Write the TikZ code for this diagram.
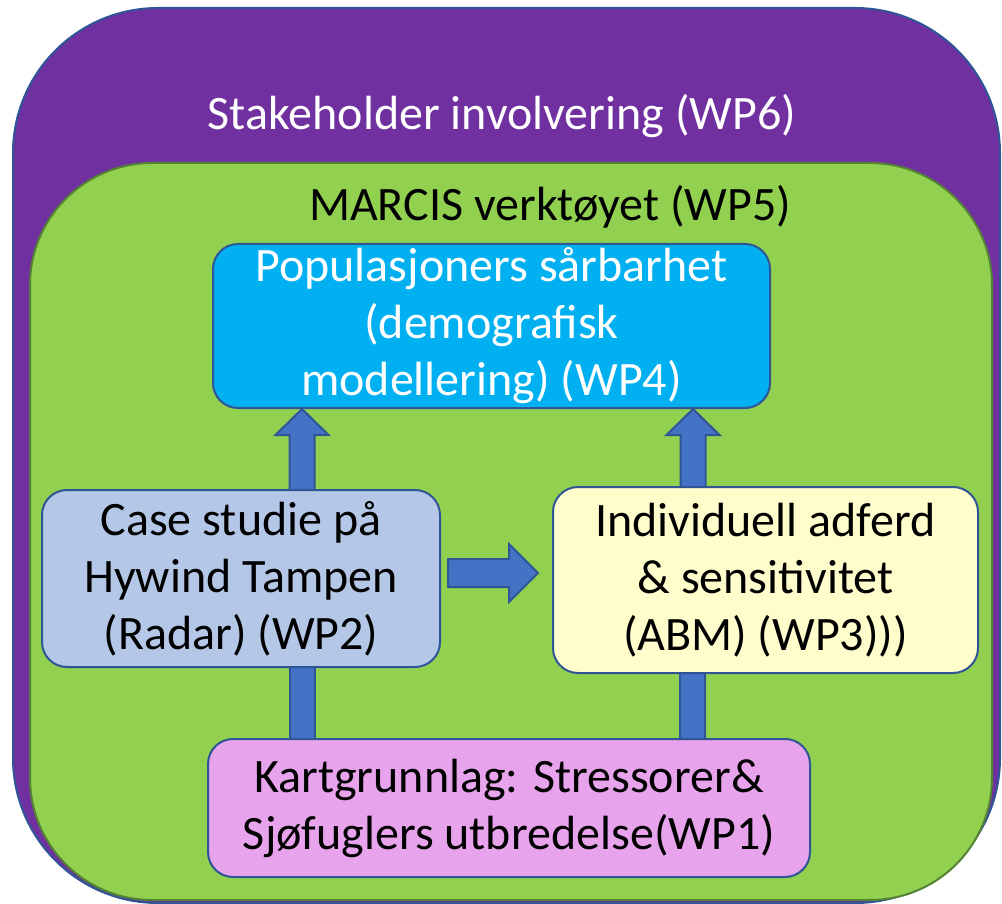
\documentclass[tikz,border=0pt]{standalone}
\usepackage{fontspec}
\setmainfont{Carlito}
\usetikzlibrary{calc}
\pgfdeclarelayer{back}
\pgfdeclarelayer{arrows}
\pgfsetlayers{back,arrows,main}
\definecolor{outerpurple}{HTML}{7030A0}
\definecolor{bordblue}{HTML}{2F5597}
\definecolor{innergreen}{HTML}{92D050}
\definecolor{bordgreen}{HTML}{548235}
\definecolor{popblue}{HTML}{00B0F0}
\definecolor{casefill}{HTML}{B4C7E7}
\definecolor{indivfill}{HTML}{FFFDCC}
\definecolor{kartfill}{HTML}{E7A3EB}
\definecolor{arrowblue}{HTML}{4472C4}
\tikzset{
  box/.style={draw=bordblue, line width=2pt, rounded corners=25pt, align=center,
    inner sep=0pt, font=\fontsize{48}{57}\selectfont,
    execute at begin node={\rule{0pt}{50pt}}},
  title/.style={inner sep=0pt, font=\fontsize{48}{57}\selectfont},
  barrow/.style={fill=arrowblue, draw=bordblue, line width=2pt, line join=miter}
}
\begin{document}
\begin{tikzpicture}[x=1pt,y=-1pt]
\useasboundingbox (0,0) rectangle (1002,904);
\begin{pgfonlayer}{back}
  \draw[draw=bordblue, fill=outerpurple, line width=2pt, rounded corners=145pt] (13,8) rectangle (1000,903);
  \draw[draw=bordgreen, fill=innergreen, line width=2pt, rounded corners=122pt] (30,163) rectangle (992,900);
\end{pgfonlayer}
\node[title, text=white] (wp6) at (502,116) {Stakeholder involvering (WP6)};
\node[title, text=black] (wp5) at (550,207) {MARCIS verktøyet (WP5)};
\node[box, fill=popblue, text=white, minimum width=557pt, minimum height=164pt] (pop) at (491.5,326)
  {Populasjoners sårbarhet\\(demografisk\\modellering) (WP4)};
\node[box, fill=casefill, text=black, minimum width=398pt, minimum height=177pt] (case) at (241,578.5)
  {Case studie på\\Hywind Tampen\\(Radar) (WP2)};
\node[box, fill=indivfill, text=black, minimum width=425pt, minimum height=186pt] (indiv) at (765.5,580)
  {Individuell adferd\\\& sensitivitet\\(ABM) (WP3)))};
\node[box, fill=kartfill, text=black, minimum width=602pt, minimum height=138pt] (kart) at (509,808)
  {Kartgrunnlag: Stressorer\&\\Sjøfuglers utbredelse(WP1)};
\begin{pgfonlayer}{arrows}
  \draw[barrow] let \p1=(case.north), \p2=(pop.south) in
    (289.5pt,\y1-4pt) -- (289.5pt,\y2-26pt) -- (275.5pt,\y2-26pt) -- (302pt,\y2) --
    (328.5pt,\y2-26pt) -- (314.5pt,\y2-26pt) -- (314.5pt,\y1-4pt) -- cycle;
  \draw[barrow] let \p1=(indiv.north), \p2=(pop.south) in
    (680.5pt,\y1-4pt) -- (680.5pt,\y2-26pt) -- (666.5pt,\y2-26pt) -- (693pt,\y2) --
    (719.5pt,\y2-26pt) -- (705.5pt,\y2-26pt) -- (705.5pt,\y1-4pt) -- cycle;
  \draw[barrow] let \p1=(case.east), \p2=(indiv.west) in
    (\x1+7pt,-559pt) -- (\x2-43pt,-559pt) -- (\x2-43pt,-544pt) -- (\x2-14pt,-573pt) --
    (\x2-43pt,-602pt) -- (\x2-43pt,-587pt) -- (\x1+7pt,-587pt) -- cycle;
  \draw[barrow] let \p1=(kart.north), \p2=(case.south) in
    (289.5pt,\y1-4pt) rectangle (314.5pt,\y2+4pt);
  \draw[barrow] let \p1=(kart.north), \p2=(indiv.south) in
    (679.5pt,\y1-4pt) rectangle (704.5pt,\y2+4pt);
\end{pgfonlayer}
\end{tikzpicture}
\end{document}
